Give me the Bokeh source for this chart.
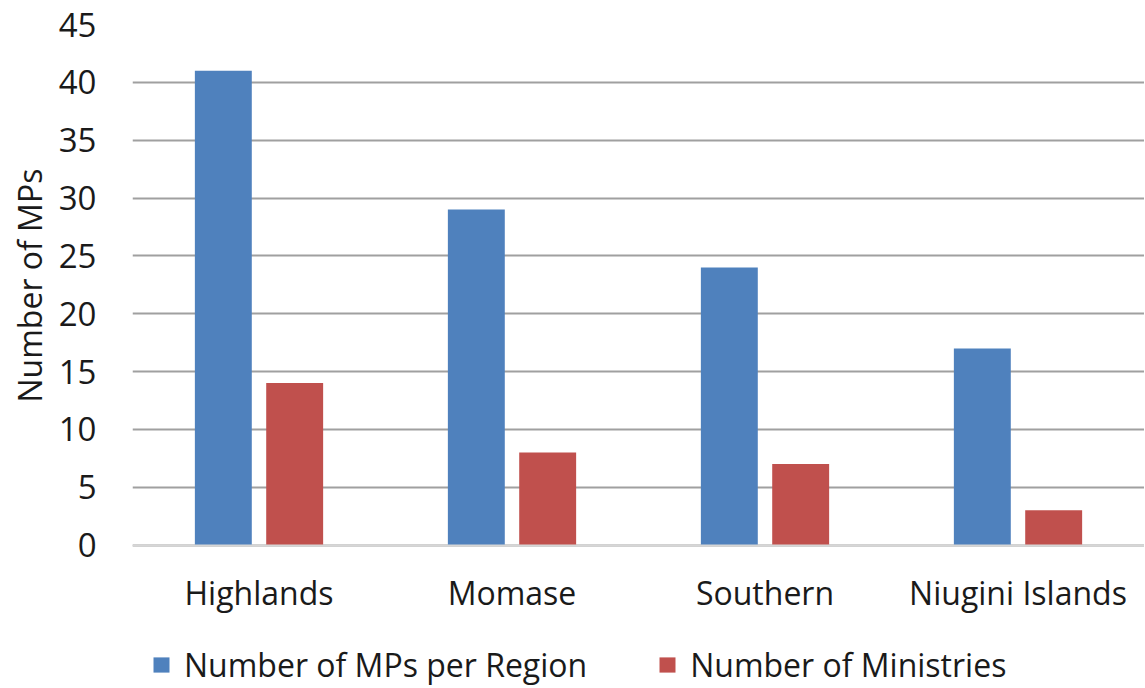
from bokeh.plotting import figure
from bokeh.models import ColumnDataSource, FactorRange, Range1d, Legend, LegendItem, Title
from bokeh.transform import dodge
from bokeh.embed import file_html
from bokeh.resources import INLINE

regions = ["Highlands", "Momase", "Southern", "Niugini Islands"]
mps_per_region = [41, 29, 24, 17]
ministries = [14, 8, 7, 3]
series_names = ["Number of MPs per Region", "Number of Ministries"]
y_ticks = [0, 5, 10, 15, 20, 25, 30, 35, 40, 45]
y_axis_title = "Number of MPs"

src = ColumnDataSource(dict(region=regions, mps=mps_per_region, mins=ministries))

FONT = "Open Sans"
TXT = "#1a1a1a"
# frame extends below zero so the category labels and the legend sit inside it
p = figure(x_range=FactorRange(*regions, range_padding=0), y_range=Range1d(-12.23, 45),
           frame_width=1012, frame_height=662, output_backend="svg", toolbar_location=None,
           min_border_left=128, min_border_right=0, min_border_top=24, min_border_bottom=0)
p.outline_line_color = None

r1 = p.vbar(x=dodge("region", -0.141, range=p.x_range), top="mps", bottom=0, width=0.225,
            source=src, fill_color="#4F81BD", line_color=None)
r2 = p.vbar(x=dodge("region", 0.141, range=p.x_range), top="mins", bottom=0, width=0.225,
            source=src, fill_color="#C0504D", line_color=None)

p.yaxis.ticker = y_ticks
p.yaxis.axis_line_color = None
p.yaxis.major_tick_line_color = None
p.yaxis.minor_tick_line_color = None
p.yaxis.major_label_text_font = FONT
p.yaxis.major_label_text_font_size = "33px"
p.yaxis.major_label_text_color = TXT
p.yaxis.major_label_standoff = 30

ytitle = Title(text=y_axis_title, align="left", offset=284, standoff=10,
               text_font=FONT, text_font_size="32px", text_font_style="normal", text_color=TXT)
p.add_layout(ytitle, "left")

p.xaxis.fixed_location = 0
p.xaxis.axis_line_color = "#d6d6d6"
p.xaxis.axis_line_width = 2
p.xaxis.major_tick_line_color = None
p.xaxis.minor_tick_line_color = None
p.xaxis.major_label_text_font = FONT
p.xaxis.major_label_text_font_size = "32px"
p.xaxis.major_label_text_color = TXT
p.xaxis.major_label_standoff = 20

p.xgrid.grid_line_color = None
p.ygrid.grid_line_color = "#a0a0a0"
p.ygrid.grid_line_width = 2

legend = Legend(items=[LegendItem(label=series_names[0], renderers=[r1]),
                       LegendItem(label=series_names[1], renderers=[r2])],
                orientation="horizontal", location=(19, 0))
legend.label_text_font = FONT
legend.label_text_font_size = "32px"
legend.label_text_color = TXT
legend.glyph_width = 20
legend.glyph_height = 19
legend.label_standoff = 13
legend.spacing = 70
legend.border_line_color = None
legend.background_fill_alpha = 0
legend.margin = 0
legend.padding = 0
p.add_layout(legend, "center")

open("out.html", "w").write(file_html(p, INLINE))
